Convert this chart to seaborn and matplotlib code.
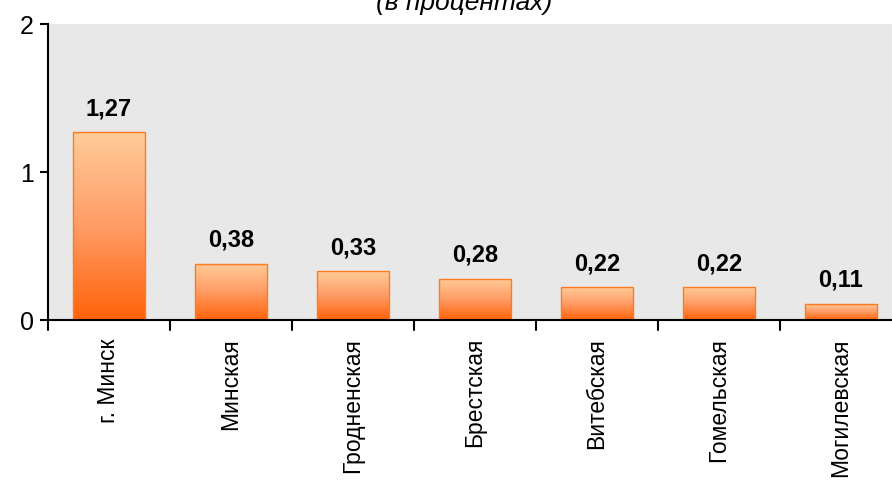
import numpy as np
import pandas as pd
import matplotlib.pyplot as plt
import seaborn as sns
from matplotlib.colors import LinearSegmentedColormap

plt.switch_backend('Agg')

regions = ['г. Минск', 'Минская', 'Гродненская', 'Брестская', 'Витебская', 'Гомельская', 'Могилевская']
values = [1.27, 0.38, 0.33, 0.28, 0.22, 0.22, 0.11]
labels = ['1,27', '0,38', '0,33', '0,28', '0,22', '0,22', '0,11']

df = pd.DataFrame({'region': regions, 'value': values})

sns.set_style('white')
plt.rcParams['font.family'] = ['Liberation Sans', 'DejaVu Sans']
plt.rcParams['text.color'] = 'black'
plt.rcParams['xtick.color'] = 'black'
plt.rcParams['ytick.color'] = 'black'

fig = plt.figure(figsize=(8.92, 4.87), dpi=100)
ax = fig.add_axes([48 / 892, 1 - 320 / 487, 854 / 892, 296 / 487])
ax.set_facecolor('#E8E8E8')

sns.barplot(data=df, x='region', y='value', ax=ax, width=0.59,
            color='#FF9955', edgecolor='#FF7A1E', linewidth=1.0)

# vertical gradient inside every bar
grad = LinearSegmentedColormap.from_list('g', ['#FF6208', '#FF9C66', '#FFCC99'])
gradient = np.linspace(0, 1, 256).reshape(-1, 1)
for p in ax.patches:
    x0, y0 = p.get_x(), p.get_y()
    w, h = p.get_width(), p.get_height()
    p.set_facecolor('none')
    im = ax.imshow(gradient, cmap=grad, aspect='auto', origin='lower',
                   extent=[x0, x0 + w, y0, y0 + h], zorder=p.get_zorder() - 0.1)
    im.set_clip_path(p)

for i, (v, lab) in enumerate(zip(values, labels)):
    ax.text(i, v + 0.08, lab, ha='center', va='bottom', fontsize=17,
            fontweight='bold', color='black')

ax.set_xlim(-0.5, 6.5)
ax.set_ylim(0, 2)
ax.set_yticks([0, 1, 2])
ax.set_yticklabels(['0', '1', '2'], fontsize=18)
ax.set_xticks(range(7))
ax.set_xticklabels(regions, rotation=90, fontsize=16.5)
ax.tick_params(axis='x', length=0, pad=13, labelcolor='black')
ax.tick_params(axis='y', length=6, width=1.5, direction='out', left=True, pad=4,
               labelcolor='black')
for b in np.arange(-0.5, 7, 1):
    ax.plot([b, b], [0, -0.07], color='black', lw=1.5, clip_on=False)
ax.set_xlabel('')
ax.set_ylabel('')
for s in ['top', 'right']:
    ax.spines[s].set_visible(False)
for s in ['left', 'bottom']:
    ax.spines[s].set_color('black')
    ax.spines[s].set_linewidth(1.5)

fig.text(0.52, 1 - 10 / 487, '(в процентах)', ha='center', va='baseline',
         fontsize=19, style='italic', color='black')

fig.savefig('out.png', dpi=100)
